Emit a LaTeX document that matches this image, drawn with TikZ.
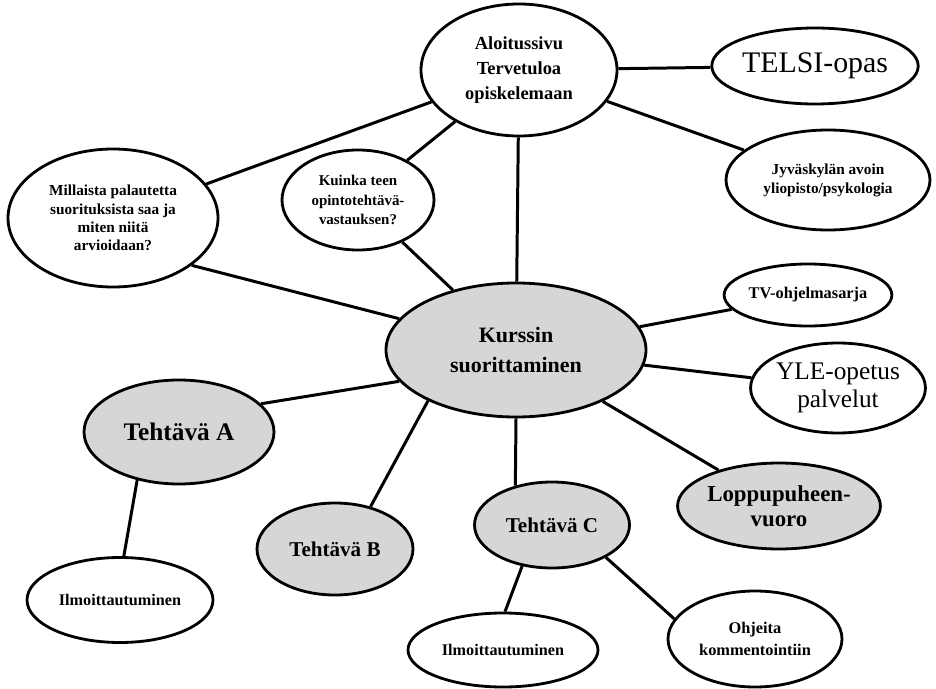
\documentclass[tikz,border=0pt]{standalone}
\usepackage{fontspec}
\setmainfont{Liberation Serif}
\usetikzlibrary{positioning,shapes,calc}

\begin{document}
\begin{tikzpicture}[x=0.02cm, y=-0.02cm,
  every node/.style={font=\bfseries\small, align=center},
  koko/.style 2 args={minimum width=#1*0.02cm, minimum height=#2*0.02cm},
  aihe/.style={ellipse, draw, line width=1.6pt, fill=white, inner sep=0pt},
  osa/.style={ellipse, draw, line width=1.6pt, fill=gray!32, inner sep=0pt},
  link/.style={line width=1.7pt}
]
\useasboundingbox (0,0) rectangle (936,689);

% Keskus
\node[osa, koko={260}{134}, font=\bfseries\fontsize{12.5}{17}\selectfont] (kurssi) at (516,350) {Kurssin\\suorittaminen};

% Ylaosa
\node[aihe, koko={196}{132}, font=\bfseries\fontsize{10.5}{14}\selectfont] (alku) at (519,70) {Aloitussivu\\Tervetuloa\\opiskelemaan};
\node[aihe, koko={200}{76}, font=\fontsize{17}{20}\selectfont] (telsi) at (815,66) {TELSI-opas};
\node[aihe, koko={204}{100}, font=\bfseries\fontsize{8.7}{10.8}\selectfont] (jyu) at (828,180) {Jyväskylän avoin\\yliopisto/psykologia};
\node[aihe, koko={210}{138}, font=\bfseries\fontsize{8.7}{10.4}\selectfont] (palaute) at (113,218) {Millaista palautetta\\suorituksista saa ja\\miten niitä\\arvioidaan?};
\node[aihe, koko={152}{100}, font=\bfseries\fontsize{8.5}{11.3}\selectfont] (vastaus) at (358,200) {Kuinka teen\\opintotehtävä-\\vastauksen?};

% Oikea puoli
\node[aihe, koko={145}{62}, font=\bfseries\fontsize{9.3}{11}\selectfont] (tv) at (808,295) {TV-ohjelmasarja};
\node[aihe, koko={152}{90}, font=\fontsize{14.4}{16}\selectfont] (yle) at (838,388) {YLE-opetus\\palvelut};
\node[osa, koko={202}{86}, font=\bfseries\fontsize{13}{14.5}\selectfont] (loppu) at (779,506) {Loppupuheen-\\vuoro};

% Tehtavat
\node[osa, koko={190}{104}, font=\bfseries\fontsize{14.4}{16}\selectfont] (tA) at (179,432) {Tehtävä A};
\node[osa, koko={156}{92}, font=\bfseries\fontsize{12}{14}\selectfont] (tB) at (335,549) {Tehtävä B};
\node[osa, koko={155}{86}, font=\bfseries\fontsize{12}{14}\selectfont] (tC) at (552,525) {Tehtävä C};
\node[aihe, koko={186}{85}, font=\bfseries\fontsize{9.2}{11}\selectfont] (ilmA) at (120,600) {Ilmoittautuminen};
\node[aihe, koko={190}{74}, font=\bfseries\fontsize{9.2}{11}\selectfont] (ilmC) at (503,650) {Ilmoittautuminen};
\node[aihe, koko={174}{96}, font=\bfseries\fontsize{9.3}{12.5}\selectfont] (ohje) at (755,639) {Ohjeita\\kommentointiin};

% Viivat
\draw[link] (alku) -- (telsi);
\draw[link] (alku) -- (jyu);
\draw[link] (alku) -- (palaute);
\draw[link] (alku) -- (vastaus);
\draw[link] (alku) -- (kurssi);
\draw[link] (kurssi.165) -- (palaute.-31);
\draw[link] (kurssi) -- (vastaus);
\draw[link] (kurssi) -- (tv);
\draw[link] (kurssi) -- (yle);
\draw[link] (kurssi) -- (loppu);
\draw[link] (kurssi.195) -- (tA.19);
\draw[link] (kurssi.210) -- (tB.50);
\draw[link] (kurssi.south) -- (tC.133);
\draw[link] (tA.229) -- (ilmA.85);
\draw[link] (tC.234) -- (ilmC.87);
\draw[link] (tC.-31) -- (ohje.166);
\end{tikzpicture}
\end{document}
